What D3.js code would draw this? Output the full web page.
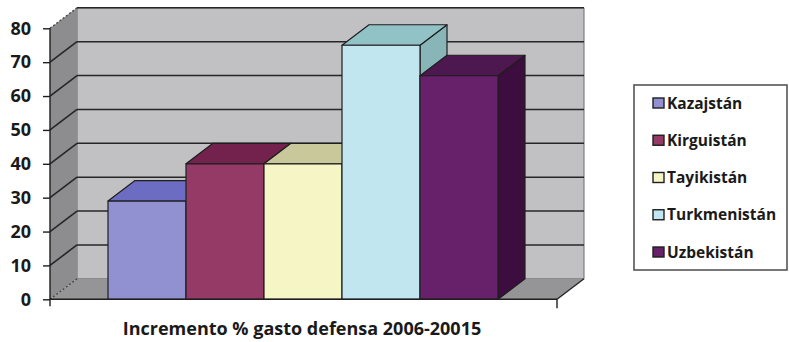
<!DOCTYPE html>
<html><head><meta charset="utf-8">
<script src="https://cdn.jsdelivr.net/npm/d3@7"></script>
<style>
html,body{margin:0;padding:0;background:#fff;}
svg{display:block;font-family:"Open Sans",Lato,sans-serif;}
</style></head>
<body>
<svg id="c" width="789" height="342"></svg>
<script>
const categories = ["Kazajstán","Kirguistán","Tayikistán","Turkmenistán","Uzbekistán"];
const values = [29, 40, 40, 75, 66];
const yTicks = [0,10,20,30,40,50,60,70,80];
const xLabel = "Incremento % gasto defensa 2006-20015";
const colors = {
  front: ["#9191d1","#953a66","#f6f5c6","#c1e6ef","#66216a"],
  top:   ["#6c6cc2","#72224c","#c8c89b","#91c3c6","#4d174f"],
  side:  ["#5858a8","#5e1a3e","#a8a880","#88b5b8","#3c0d3e"]
};

const svg = d3.select("#c");
const DX = 27, DY = -20.5;
const plotL = 50, plotR = 557;
const y = d3.scaleLinear().domain([0,80]).range([299.3, 28.3]);
const x = d3.scaleBand().domain(categories).range([108, 498]).paddingInner(0).paddingOuter(0);
const line = d3.line();

// back wall
svg.append("path")
  .attr("d", line([[plotL+DX,y(80)+DY],[plotR+DX,y(80)+DY],[plotR+DX,y(0)+DY],[plotL+DX,y(0)+DY]])+"Z")
  .attr("fill","#c1c1c3").attr("stroke","#6a6a6a").attr("stroke-width",1);
// side wall
svg.append("path")
  .attr("d", line([[plotL,y(80)],[plotL+DX,y(80)+DY],[plotL+DX,y(0)+DY],[plotL,y(0)]])+"Z")
  .attr("fill","#8d8d8f");
// floor
svg.append("path")
  .attr("d", line([[plotL,y(0)],[plotL+DX,y(0)+DY],[plotR+DX,y(0)+DY],[plotR,y(0)]])+"Z")
  .attr("fill","#959597");

// gridlines on back wall and side wall
yTicks.forEach(t => {
  if (t > 0) {
    svg.append("line")
      .attr("x1", plotL+DX).attr("x2", plotR+DX)
      .attr("y1", y(t)+DY).attr("y2", y(t)+DY)
      .attr("stroke","#262626").attr("stroke-width",1.6);
  }
  if (t > 0 && t < 80) {
    svg.append("line")
      .attr("x1", plotL).attr("x2", plotL+DX)
      .attr("y1", y(t)).attr("y2", y(t)+DY)
      .attr("stroke","#262626").attr("stroke-width",1.6);
  }
});
// dotted edges on side wall
[0,80].forEach(t => {
  svg.append("line")
    .attr("x1", plotL).attr("x2", plotL+DX)
    .attr("y1", y(t)).attr("y2", y(t)+DY)
    .attr("stroke","#444").attr("stroke-width",1.3).attr("stroke-dasharray","2,2");
});
// floor right edge
svg.append("line")
  .attr("x1", plotR).attr("x2", plotR+DX)
  .attr("y1", y(0)).attr("y2", y(0)+DY)
  .attr("stroke","#262626").attr("stroke-width",1.4);

// bars
categories.forEach((c,i) => {
  const x0 = x(c), x1 = x(c)+x.bandwidth();
  const yt = y(values[i]), yb = y(0);
  const g = svg.append("g").attr("stroke","#1e1e1e").attr("stroke-width",1.2).attr("stroke-linejoin","round");
  g.append("path").attr("fill", colors.side[i])
    .attr("d", line([[x1,yb],[x1+DX,yb+DY],[x1+DX,yt+DY],[x1,yt]])+"Z");
  g.append("path").attr("fill", colors.top[i])
    .attr("d", line([[x0,yt],[x0+DX,yt+DY],[x1+DX,yt+DY],[x1,yt]])+"Z");
  g.append("path").attr("fill", colors.front[i])
    .attr("d", line([[x0,yt],[x1,yt],[x1,yb],[x0,yb]])+"Z");
});

// front axes
svg.append("line").attr("x1",plotL).attr("x2",plotL).attr("y1",y(80)).attr("y2",y(0)+7)
  .attr("stroke","#1e1e1e").attr("stroke-width",1.4);
svg.append("line").attr("x1",plotL).attr("x2",plotR).attr("y1",y(0)).attr("y2",y(0))
  .attr("stroke","#1e1e1e").attr("stroke-width",1.6);
svg.append("line").attr("x1",plotR).attr("x2",plotR).attr("y1",y(0)).attr("y2",y(0)+9)
  .attr("stroke","#1e1e1e").attr("stroke-width",1.4);

const yAxis = d3.axisLeft(y).tickValues(yTicks).tickSize(7).tickPadding(12).tickFormat(d3.format("d"));
const ga = svg.append("g").attr("transform",`translate(${plotL},0)`).call(yAxis);
ga.select(".domain").remove();
ga.selectAll(".tick line").attr("stroke","#1e1e1e").attr("stroke-width",1.4);
ga.selectAll(".tick text").attr("fill","#1a1a1a").style("font-size","18px").style("font-weight","bold")
  .style("font-family","'Open Sans', sans-serif");

// x label
svg.append("text").attr("x", 302).attr("y", 335).attr("text-anchor","middle")
  .attr("fill","#1a1a1a").style("font-size","18px").style("font-weight","bold").text(xLabel);

// legend
const lg = svg.append("g");
lg.append("rect").attr("x",634).attr("y",85).attr("width",153).attr("height",185)
  .attr("fill","#fff").attr("stroke","#555").attr("stroke-width",1.6);
const ly = d3.scalePoint().domain(categories).range([103, 252]);
categories.forEach((c,i) => {
  lg.append("rect").attr("x",653).attr("y",ly(c)-5).attr("width",11).attr("height",10)
    .attr("fill",colors.front[i]).attr("stroke","#1e1e1e").attr("stroke-width",1.4);
  lg.append("text").attr("x",667).attr("y",ly(c)+5.5).attr("fill","#1a1a1a")
    .style("font-size","15.5px").style("font-weight","bold").text(c);
});
</script>
</body></html>
